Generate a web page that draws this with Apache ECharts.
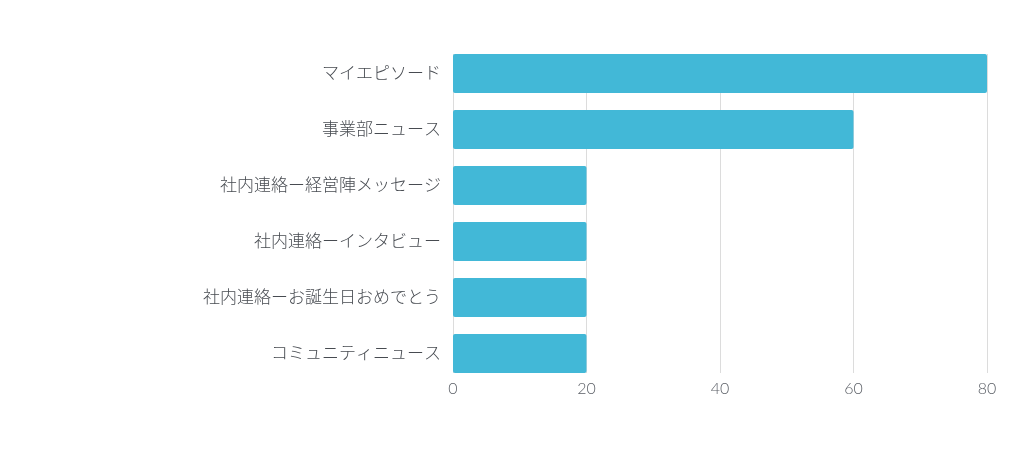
<!DOCTYPE html>
<html>
<head>
<meta charset="utf-8">
<script src="https://cdn.jsdelivr.net/npm/echarts@6/dist/echarts.min.js"></script>
<style>
  html, body { margin: 0; padding: 0; background: #fff; }
  #main { width: 1023px; height: 459px; }
</style>
</head>
<body>
<div id="main"></div>
<script>
var categories = ['マイエピソード', '事業部ニュース', '社内連絡ー経営陣メッセージ', '社内連絡ーインタビュー', '社内連絡ーお誕生日おめでとう', 'コミュニティニュース'];
var values = [80, 60, 20, 20, 20, 20];
var xTicks = { min: 0, max: 80, interval: 20 };

var myChart = echarts.init(document.getElementById('main'));

// grid 0: gridlines + x labels (spans bar tops to bar bottoms)
// grid 1: the bars themselves, same x scale
var option = {
    textStyle: {
        fontFamily: 'Lato, "Noto Sans CJK JP", sans-serif'
    },
    grid: [
        { left: 453, right: 36, top: 54, bottom: 86 },
        { left: 453, right: 36, top: 45.5, bottom: 77.5 }
    ],
    xAxis: [{
        type: 'value',
        gridIndex: 0,
        min: xTicks.min,
        max: xTicks.max,
        interval: xTicks.interval,
        axisLine: { show: false },
        axisTick: { show: false },
        splitLine: { lineStyle: { color: '#dcdcdc' } },
        axisLabel: {
            color: '#5c6067',
            fontSize: 16,
            fontWeight: 300,
            margin: 8
        }
    }, {
        type: 'value',
        gridIndex: 1,
        min: xTicks.min,
        max: xTicks.max,
        interval: xTicks.interval,
        show: false
    }],
    yAxis: [{
        type: 'category',
        gridIndex: 0,
        data: categories,
        show: false
    }, {
        type: 'category',
        gridIndex: 1,
        inverse: true,
        data: categories,
        axisLine: { show: false },
        axisTick: { show: false },
        splitLine: { show: false },
        axisLabel: {
            color: '#474b51',
            fontSize: 17,
            fontWeight: 300,
            margin: 12
        }
    }],
    series: [{
        type: 'bar',
        xAxisIndex: 1,
        yAxisIndex: 1,
        data: values,
        barWidth: '70%',
        itemStyle: {
            color: '#42b8d7',
            borderRadius: 2
        }
    }]
};

myChart.setOption(option);

window.onresize = function () {
    myChart.resize();
};
</script>
</body>
</html>
